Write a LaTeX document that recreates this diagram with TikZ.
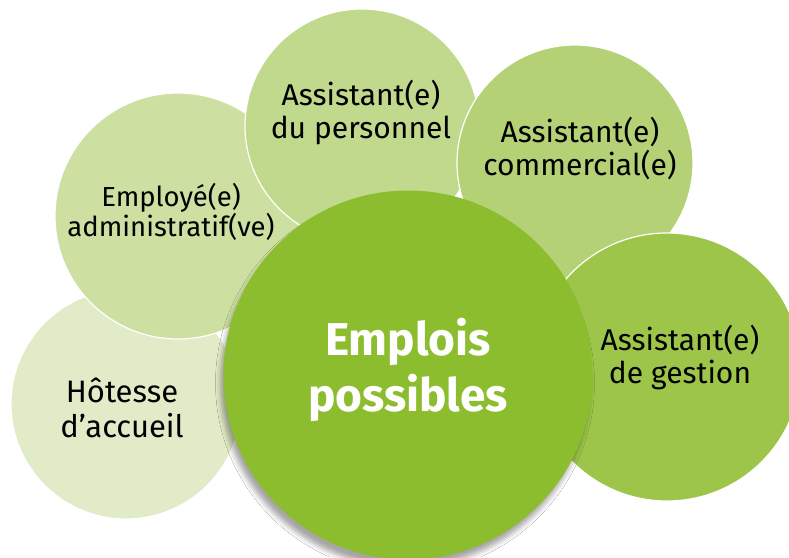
\documentclass[tikz,border=0pt]{standalone}
\usepackage{fontspec}
\setmainfont{Fira Sans}
\newfontfamily\labfont{Fira Sans}
\usetikzlibrary{shadows.blur}
\definecolor{cH}{HTML}{E1EBC8}
\definecolor{cE}{HTML}{CDDFA1}
\definecolor{cP}{HTML}{C0D98C}
\definecolor{cC}{HTML}{B4D176}
\definecolor{cG}{HTML}{9DC549}
\definecolor{cM}{HTML}{8CBD2F}
\tikzset{
  bubble/.style={circle, draw=white, line width=1.2pt, inner sep=0pt, minimum size=#1},
  lab/.style={align=center, text=black, font=\labfont\fontsize{30}{33}\selectfont},
}
\begin{document}
\begin{tikzpicture}[x=1pt,y=-1pt]
\useasboundingbox (0,0) rectangle (789,557);
\fill[white] (0,0) rectangle (789,557);
\node[bubble=230pt, fill=cH] (h) at (126,404) {};
\node[bubble=246pt, fill=cE] (e) at (178,216) {};
\node[bubble=234pt, fill=cP] (p) at (362,126) {};
\node[bubble=236pt, fill=cC] (c) at (575,163) {};
\node[bubble=268pt, fill=cG] (g) at (667,367) {};
\node[circle, fill=cM, inner sep=0pt, minimum size=369pt,
  blur shadow={shadow xshift=-3pt, shadow yshift=-8pt, shadow blur radius=5pt, shadow opacity=35}] (m) at (408,375) {};
\node[lab, font=\labfont\fontsize{31}{35}\selectfont] (th) at (122,408) {Hôtesse\\d’accueil};
\node[lab, font=\labfont\fontsize{27.5}{30}\selectfont] (te) at (171,212) {Employé(e)\\administratif(ve)};
\node[lab] (tp) at (361,113) {Assistant(e)\\du personnel};
\node[lab] (tc) at (580,148) {Assistant(e)\\commercial(e)};
\node[lab] (tg) at (680,358) {Assistant(e)\\de gestion};
\node[align=center, text=white, font=\bfseries\fontsize{46}{56}\selectfont] (tm) at (408,370) {Emplois\\possibles};
\end{tikzpicture}
\end{document}
